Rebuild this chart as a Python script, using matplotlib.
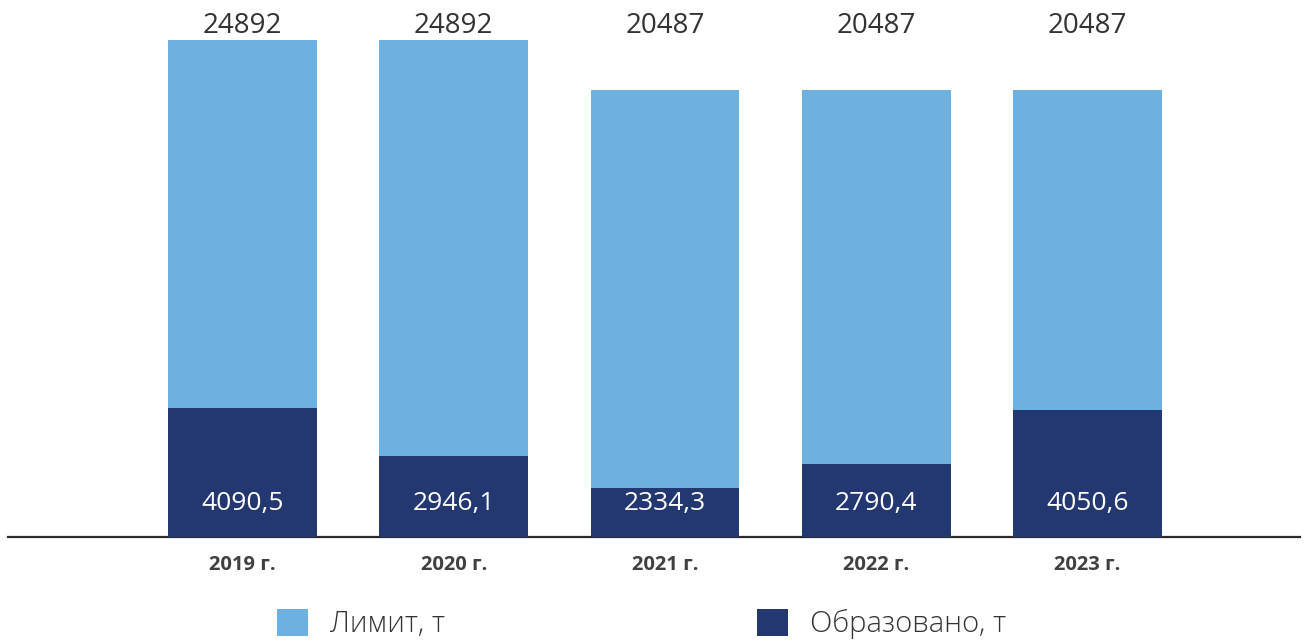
import numpy as np
import matplotlib
matplotlib.use('Agg')
import matplotlib.pyplot as plt
import matplotlib.transforms as mtransforms
from matplotlib.font_manager import FontProperties

# data
years = ['2019 г.', '2020 г.', '2021 г.', '2022 г.', '2023 г.']
limit_t = [24892, 24892, 20487, 20487, 20487]
formed_t = [4090.5, 2946.1, 2334.3, 2790.4, 4050.6]
limit_lbl = ['24892', '24892', '20487', '20487', '20487']
formed_lbl = ['4090,5', '2946,1', '2334,3', '2790,4', '4050,6']

# style
c_light = '#6db1e0'
c_dark = '#233870'
c_text = '#333333'
plt.rcParams['font.family'] = ['Open Sans', 'DejaVu Sans']

# the picture isn't linear, a power scale gets close
pw = 0.3
def fwd(v):
    return np.power(np.maximum(v, 0), pw)
def inv(v):
    return np.power(np.maximum(v, 0), 1.0 / pw)

W, H = 1309, 641
fig = plt.figure(figsize=(W / 100, H / 100), dpi=100)
ax = fig.add_axes([8 / W, 104 / H, 1292 / W, 537 / H])
ax.set_yscale('function', functions=(fwd, inv))

x = np.arange(len(years))
bw = 0.705
b1 = ax.bar(x, limit_t, width=bw, color=c_light, zorder=3, label='Лимит, т')
b2 = ax.bar(x, formed_t, width=bw, color=c_dark, zorder=4, label='Образовано, т')

ax.set_ylim(1561, 28850)
ax.set_xlim(-1.11, 5.006)

tr = mtransforms.blended_transform_factory(ax.transData, ax.transAxes)
for i in range(len(years)):
    ax.text(x[i], 0.951, limit_lbl[i], transform=tr, ha='center', va='center',
            fontsize=20, color=c_text, zorder=5)
    ax.text(x[i], 0.063, formed_lbl[i], transform=tr, ha='center', va='center',
            fontsize=19, color='white', zorder=5)

for s in ['top', 'left', 'right']:
    ax.spines[s].set_visible(False)
ax.spines['bottom'].set_color('#2b2b2b')
ax.spines['bottom'].set_linewidth(1.6)
ax.spines['bottom'].set_zorder(2)
ax.set_yticks([])
ax.set_yticks([], minor=True)
ax.set_xticks(x)
ax.set_xticklabels(years, fontsize=14.5, fontweight='bold', color='#404040')
ax.tick_params(axis='x', length=0, pad=13)

fig.legend(handles=[b1, b2], loc='upper left', bbox_to_anchor=(277 / W, 1 - 609 / H),
           ncol=2, frameon=False, prop=FontProperties(family=['Open Sans', 'DejaVu Sans'], size=21, weight='light'),
           labelcolor=c_text, handlelength=1.06, handleheight=1.03, handletextpad=0.75,
           columnspacing=10.7, borderpad=0, borderaxespad=0)

fig.savefig('out.png', dpi=100)
